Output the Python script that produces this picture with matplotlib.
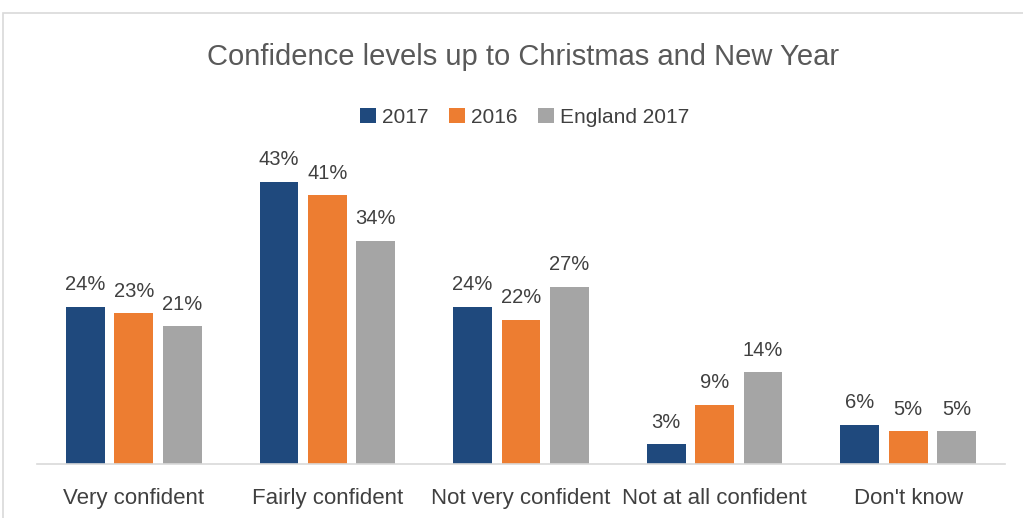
import matplotlib
matplotlib.use("Agg")
import matplotlib.pyplot as plt
import numpy as np
from matplotlib.patches import Rectangle

categories = ["Very confident", "Fairly confident", "Not very confident",
              "Not at all confident", "Don't know"]
series_names = ["2017", "2016", "England 2017"]
values_2017 = [24, 43, 24, 3, 6]
values_2016 = [23, 41, 22, 9, 5]
values_england_2017 = [21, 34, 27, 14, 5]
colors = ["#1F497D", "#ED7D31", "#A5A5A5"]

FONT = ["Liberation Sans", "DejaVu Sans"]
plt.rcParams["font.family"] = FONT

fig = plt.figure(figsize=(10.23, 5.18), dpi=100)
fig.patch.set_facecolor("white")

# chart frame
fig.patches.append(Rectangle((3 / 1023, -0.1), 1.2, (518 - 13) / 518 + 0.1,
                             transform=fig.transFigure, fill=False,
                             edgecolor="#D9D9D9", linewidth=1.2))

ax = fig.add_axes([37 / 1023, 54 / 518, 968 / 1023, 328 / 518])
x = np.arange(len(categories))
width = 0.2
step = 0.25
all_series = [values_2017, values_2016, values_england_2017]
for i, (vals, name, col) in enumerate(zip(all_series, series_names, colors)):
    pos = x + (i - 1) * step
    bars = ax.bar(pos, vals, width, color=col, label=name)
    for b, v in zip(bars, vals):
        ax.annotate(f"{v}%", (b.get_x() + b.get_width() / 2, v),
                    xytext=(0, 9), textcoords="offset points",
                    ha="center", va="bottom", fontsize=14.5, color="#404040")

ax.set_xlim(-0.5, len(categories) - 0.5)
ax.set_ylim(0, 50)
ax.set_yticks([])
ax.set_xticks(x)
ax.set_xticklabels(categories, fontsize=16, color="#404040")
ax.tick_params(axis="x", length=0, pad=17)
for s in ["top", "right", "left"]:
    ax.spines[s].set_visible(False)
ax.spines["bottom"].set_color("#D9D9D9")
ax.spines["bottom"].set_linewidth(1.2)

fig.text(0.511, 0.889, "Confidence levels up to Christmas and New Year",
         ha="center", va="center", fontsize=21, color="#595959")

leg = fig.legend(loc="center", bbox_to_anchor=(0.513, 0.774), ncol=3,
                 frameon=False, fontsize=15, handlelength=0.75,
                 handleheight=0.75, handletextpad=0.3, columnspacing=1.0)
for t in leg.get_texts():
    t.set_color("#404040")

fig.savefig("out.png", dpi=100, facecolor="white")
